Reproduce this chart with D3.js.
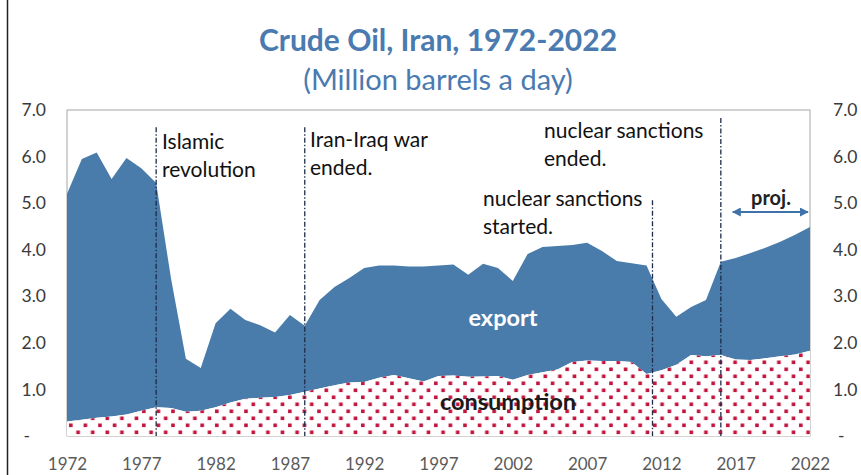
<!DOCTYPE html>
<html>
<head>
<meta charset="utf-8">
<script src="https://cdn.jsdelivr.net/npm/d3@7"></script>
<style>
  body { margin: 0; background: #fff; }
  svg { display: block; font-family: Lato, "Open Sans", sans-serif; }
</style>
</head>
<body>
<svg id="chart" width="861" height="475"></svg>
<script>
// values (million barrels a day)
const years = d3.range(1972, 2023);
const total = [5.20, 5.95, 6.09, 5.52, 5.97, 5.75, 5.43, 3.38, 1.66, 1.46,
  2.42, 2.73, 2.49, 2.38, 2.22, 2.60, 2.37, 2.92, 3.20, 3.39,
  3.61, 3.66, 3.66, 3.64, 3.64, 3.66, 3.68, 3.46, 3.70, 3.61,
  3.33, 3.91, 4.06, 4.08, 4.10, 4.15, 3.97, 3.76, 3.71, 3.66,
  2.94, 2.56, 2.77, 2.92, 3.74, 3.82, 3.93, 4.04, 4.17, 4.32, 4.49];
const consumption = [0.31, 0.35, 0.39, 0.42, 0.46, 0.54, 0.62, 0.60, 0.52, 0.54,
  0.62, 0.72, 0.80, 0.82, 0.84, 0.88, 0.95, 1.02, 1.09, 1.15,
  1.16, 1.25, 1.31, 1.24, 1.17, 1.29, 1.30, 1.27, 1.28, 1.29,
  1.21, 1.31, 1.37, 1.43, 1.59, 1.62, 1.61, 1.61, 1.59, 1.33,
  1.41, 1.53, 1.74, 1.71, 1.74, 1.64, 1.63, 1.67, 1.71, 1.75, 1.83];
const yTicks = [0, 1, 2, 3, 4, 5, 6, 7];
const xTicks = [1972, 1977, 1982, 1987, 1992, 1997, 2002, 2007, 2012, 2017, 2022];
const eventYears = [1978, 1988, 2011.4, 2016];
const eventTops = [6.63, 6.63, 5.06, 6.83];
const eventText = [["Islamic", "revolution"], ["Iran-Iraq war", "ended."],
  ["nuclear sanctions", "started."], ["nuclear sanctions", "ended."]];
const projRange = [2016.8, 2022];

const svg = d3.select("#chart");
const blue = "#4a7cab";
const x = d3.scaleLinear().domain([1972, 2022]).range([67, 810]);
const y = d3.scaleLinear().domain([0, 7]).range([436, 110]);

// outer frame line
svg.append("line").attr("x1", 7.5).attr("x2", 7.5).attr("y1", 0).attr("y2", 475)
  .attr("stroke", "#222").attr("stroke-width", 1.5);

const defs = svg.append("defs");
const pat = defs.append("pattern").attr("id", "dots")
  .attr("patternUnits", "userSpaceOnUse").attr("width", 14.6).attr("height", 14)
  .attr("x", 67).attr("y", 436);
pat.append("rect").attr("width", 14.6).attr("height", 14).attr("fill", "#fff");
pat.append("rect").attr("x", 2).attr("y", 1.5).attr("width", 3.6).attr("height", 3.6).attr("fill", "#c2143c");
pat.append("rect").attr("x", 9.3).attr("y", 8.5).attr("width", 3.6).attr("height", 3.6).attr("fill", "#c2143c");
const mk = defs.append("marker").attr("id", "arr").attr("viewBox", "0 0 10 10")
  .attr("refX", 9).attr("refY", 5).attr("markerWidth", 5).attr("markerHeight", 5)
  .attr("orient", "auto-start-reverse");
mk.append("path").attr("d", "M0,0L10,5L0,10z").attr("fill", "#3f72a8");

// plot frame
svg.append("rect").attr("x", x(1972)).attr("y", y(7))
  .attr("width", x(2022) - x(1972)).attr("height", y(0) - y(7))
  .attr("fill", "none").attr("stroke", "#a6a6a6").attr("stroke-width", 1);

const exportArea = d3.area()
  .x((d, i) => x(years[i]))
  .y0((d, i) => y(consumption[i]))
  .y1((d, i) => y(total[i]));
const consArea = d3.area()
  .x((d, i) => x(years[i]))
  .y0(y(0))
  .y1((d, i) => y(consumption[i]));

svg.append("path").datum(total).attr("d", exportArea).attr("fill", blue);
svg.append("path").datum(consumption).attr("d", consArea).attr("fill", "url(#dots)");

// event lines
eventYears.forEach((yr, i) => {
  svg.append("line")
    .attr("x1", x(yr)).attr("x2", x(yr))
    .attr("y1", y(eventTops[i])).attr("y2", y(0))
    .attr("stroke", "#1c2c48").attr("stroke-width", 1.3)
    .attr("stroke-dasharray", "5,2,1.5,2");
});

// event labels (left x, first baseline)
const labelPos = [[162, 149], [310, 147], [483, 206], [544, 138]];
eventText.forEach((lines, i) => {
  const t = svg.append("text").attr("font-size", 21).attr("fill", "#111")
    .attr("y", labelPos[i][1]);
  lines.forEach((l, j) => {
    t.append("tspan").attr("x", labelPos[i][0]).attr("dy", j === 0 ? 0 : 28).text(l);
  });
});

// projection arrow
svg.append("line")
  .attr("x1", x(projRange[0])).attr("x2", x(projRange[1]) - 2)
  .attr("y1", 212).attr("y2", 212)
  .attr("stroke", "#3f72a8").attr("stroke-width", 1.8)
  .attr("marker-start", "url(#arr)").attr("marker-end", "url(#arr)");
svg.append("text").attr("x", 771).attr("y", 205)
  .attr("text-anchor", "middle").attr("font-size", 20).attr("font-weight", "bold")
  .attr("fill", "#222").text("proj.");

// series labels
svg.append("text").attr("x", 503).attr("y", 326)
  .attr("text-anchor", "middle").attr("font-size", 23.5).attr("font-weight", "bold")
  .attr("fill", "#fff").text("export");
svg.append("text").attr("x", 508).attr("y", 410)
  .attr("text-anchor", "middle").attr("font-size", 23.5).attr("font-weight", "bold")
  .attr("fill", "#1a1a1a").text("consumption");

// axes
const fmt = v => v === 0 ? "-" : d3.format(".1f")(v);
const gl = svg.append("g").call(d3.axisLeft(y).tickValues(yTicks).tickFormat(fmt).tickSize(0));
const gr = svg.append("g").call(d3.axisRight(y).tickValues(yTicks).tickFormat(fmt).tickSize(0));
const gx = svg.append("g").attr("transform", `translate(0,${y(0)})`)
  .call(d3.axisBottom(x).tickValues(xTicks).tickFormat(d3.format("d")).tickSize(0));
[gl, gr, gx].forEach(g => g.select(".domain").remove());
gl.selectAll("text").attr("x", 46).attr("text-anchor", "end");
gr.selectAll("text").attr("x", 833).attr("text-anchor", "start");
gl.selectAll("text").filter(d => d === 0).attr("x", 30);
gr.selectAll("text").filter(d => d === 0).attr("x", 838);
[gl, gr].forEach(g => g.selectAll("text").attr("font-size", 17.5).attr("fill", "#3a3a3a")
  .attr("font-family", "Lato, 'Open Sans', sans-serif"));
gx.selectAll("text").attr("y", 34).attr("dy", 0).attr("font-size", 17).attr("fill", "#5a5a5a")
  .attr("font-family", "Lato, 'Open Sans', sans-serif");

// titles
svg.append("text").attr("x", 438).attr("y", 51).attr("text-anchor", "middle")
  .attr("font-size", 30).attr("font-weight", "bold").attr("fill", "#4a7ab0")
  .text("Crude Oil, Iran, 1972-2022");
svg.append("text").attr("x", 438).attr("y", 90).attr("text-anchor", "middle")
  .attr("font-size", 29).attr("fill", "#4a7ab0")
  .text("(Million barrels a day)");
</script>
</body>
</html>
